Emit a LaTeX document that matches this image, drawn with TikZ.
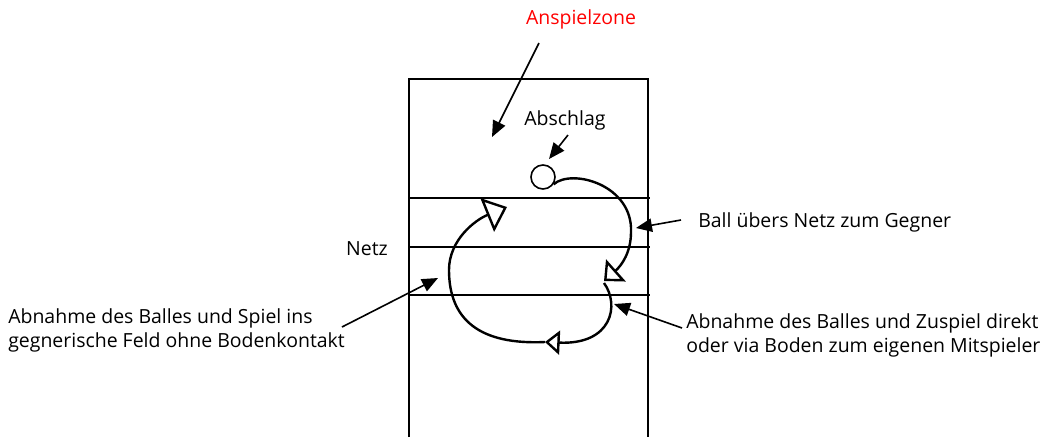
\documentclass[tikz,border=0pt]{standalone}
\usepackage{fontspec}
\setmainfont{Open Sans}
\usetikzlibrary{arrows.meta}
\definecolor{zonered}{RGB}{255,0,0}
\tikzset{
  label text/.style={font=\fontsize{14.6}{18}\selectfont, inner sep=0pt, align=left},
  pointer/.style={line width=1.2pt, -{Triangle[length=12pt,width=10pt]}},
  ballpath/.style 2 args={line width=1.8pt, -{Triangle[open,fill=white,length=#1,width=#2]}}
}
\begin{document}
\begin{tikzpicture}[x=0.75pt,y=-0.75pt]
		\useasboundingbox (0,0) rectangle (1043,437);
		
		% Court
		\draw[line width=1.4pt] (409,437) -- (409,79) -- (648,79) -- (648,437);
		\foreach \y in {198,247,295}
			\draw[line width=1.2pt] (409,\y) -- (650,\y);
		
		% Ball
		\node[circle, draw, line width=1.2pt, minimum size=18pt, inner sep=0pt] (ball) at (543,177) {};
		
		% Labels
		\node[label text, text=zonered] (zone) at (581,19) {Anspielzone};
		\node[label text] (abschlag) at (565,120) {Abschlag};
		\node[label text] (netz) at (367,249) {Netz};
		\node[label text, anchor=west] (gegner) at (698,222) {Ball übers Netz zum Gegner};
		\node[label text, anchor=west] (ohne) at (8,330) {Abnahme des Balles und Spiel ins\\gegnerische Feld ohne Bodenkontakt};
		\node[label text, anchor=west] (zuspiel) at (686,335) {Abnahme des Balles und Zuspiel direkt\\oder via Boden zum eigenen Mitspieler};
		
		% Pointer ends
		\coordinate (zonetail) at (539,43);
		\coordinate (zonetip) at (492,137);
		\coordinate (abschlagtail) at (568,135);
		\coordinate (abschlagtip) at (549,159);
		\coordinate (gegnertail) at (681,220);
		\coordinate (gegnertip) at (636,228);
		\coordinate (ohnetail) at (342,327);
		\coordinate (ohnetip) at (438,278);
		\coordinate (zuspieltail) at (682,328);
		\coordinate (zuspieltip) at (614,304);
		
		\draw[pointer] (zonetail) -- (zonetip);
		\draw[pointer] (abschlagtail) -- (abschlagtip);
		\draw[pointer] (gegnertail) -- (gegnertip);
		\draw[pointer] (ohnetail) -- (ohnetip);
		\draw[pointer] (zuspieltail) -- (zuspieltip);
		
		% Ball paths
		\coordinate (first) at (604,281);
		\coordinate (second) at (545,342);
		\coordinate (third) at (507,207);
		\draw[ballpath={12pt}{22pt}] (ball.-35) .. controls (572,168) and (633,185) .. (631,232)
			.. controls (631,252) and (622,265) .. (first);
		\draw[ballpath={11pt}{18pt}] ([yshift=-1.5pt]first) .. controls (620,305) and (612,345) .. (second);
		\draw[ballpath={16pt}{27pt}] (second) .. controls (480,345) and (449,320) .. (449,270)
			.. controls (449,240) and (475,220) .. (third);
	\end{tikzpicture}
\end{document}
